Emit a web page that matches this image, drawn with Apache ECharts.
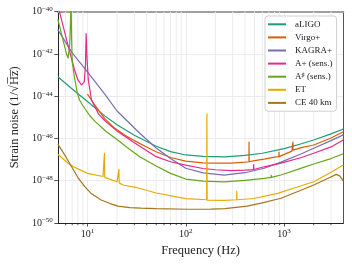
<!DOCTYPE html>
<html><head><meta charset="utf-8">
<script src="https://cdn.jsdelivr.net/npm/echarts@6/dist/echarts.min.js"></script>
<style>html,body{margin:0;padding:0;background:#fff}#c{width:352px;height:264px}</style>
</head><body><div id="c"></div>
<script>
// ---- data (frequency in Hz, log10 of strain noise PSD) ----
const seriesNames = ['aLIGO', 'Virgo+', 'KAGRA+', 'A+ (sens.)', 'A♯ (sens.)', 'ET', 'CE 40 km'];
const colors = ['#1b9e77', '#d95f02', '#7570b3', '#e7298a', '#66a61e', '#e6ab02', '#a6761d'];

const aligoF = [5, 7, 10, 15, 20, 30, 50, 70, 100, 150, 250, 400, 600, 1000, 1500, 2000, 3000, 4000];
const aligoLog = [-43.08, -43.66, -44.25, -44.93, -45.35, -45.85, -46.37, -46.62, -46.78, -46.85, -46.87, -46.8, -46.7, -46.48, -46.25, -46.07, -45.78, -45.55];

const virgoF = [10, 12, 15, 19, 25, 30, 40, 50, 70, 100, 150, 200, 290, 400, 439, 440, 441, 500, 627, 800, 886, 887, 888, 930, 1200, 1229, 1230, 1231, 1500, 2000, 3000, 4000];
const virgoLog = [-43.9, -44.45, -45.06, -45.52, -45.9, -46.1, -46.4, -46.63, -46.9, -47.07, -47.15, -47.17, -47.17, -47.12, -47.1, -46.15, -47.1, -47.05, -46.98, -46.88, -46.86, -46.63, -46.86, -46.8, -46.6, -46.55, -46.15, -46.55, -46.43, -46.31, -45.98, -45.68];

const kagraF = [5, 7, 10, 15, 20, 34, 50, 70, 100, 150, 245, 400, 627, 930, 1500, 2000, 3000, 4000];
const kagraLog = [-40.85, -41.95, -42.85, -43.9, -44.7, -45.75, -46.45, -46.95, -47.41, -47.63, -47.73, -47.62, -47.41, -47.12, -46.72, -46.46, -46.1, -45.83];

const aplusF = [5, 5.2, 5.45, 6.4, 7.4, 8.0, 8.7, 9.3, 9.55, 9.7, 9.85, 10.2, 11, 13, 15, 20, 30, 50, 70, 100, 150, 200, 290, 400, 489, 490, 491, 627, 930, 1500, 2000, 3000, 4000];
const aplusLog = [-39.7, -40.0, -40.39, -41.66, -42.76, -43.23, -43.47, -43.31, -42.5, -41.02, -42.0, -43.23, -44.18, -44.85, -45.15, -45.65, -46.2, -46.86, -47.1, -47.26, -47.42, -47.48, -47.52, -47.5, -47.47, -47.22, -47.47, -47.34, -47.17, -46.9, -46.7, -46.4, -46.07];

const asharpF = [5, 5.7, 6.1, 6.36, 6.6, 6.75, 6.8, 6.85, 6.9, 7.0, 7.4, 7.9, 8.3, 9, 10.5, 12, 15.6, 20, 25, 34, 50, 70, 100, 150, 245, 400, 627, 739, 740, 741, 930, 1500, 2000, 3000, 4000];
const asharpLog = [-40.35, -41.42, -41.97, -42.2, -41.58, -40.2, -39.0, -40.2, -41.26, -42.37, -43.15, -43.86, -44.18, -44.45, -44.9, -45.2, -45.68, -46.05, -46.4, -46.86, -47.3, -47.65, -47.92, -48.02, -48.05, -47.98, -47.89, -47.84, -47.72, -47.84, -47.73, -47.4, -47.21, -46.95, -46.72];

const etF = [5, 6.35, 7.2, 10, 14.4, 14.8, 14.9, 15.0, 15.3, 20, 20.8, 20.9, 21.0, 23, 31, 50, 100, 163, 164, 165, 245, 329, 330, 331, 489, 490, 491, 860, 1200, 2000, 3000, 4000];
const etLog = [-46.75, -47.17, -47.34, -47.65, -47.8, -47.82, -46.68, -47.84, -47.88, -48.05, -48.08, -47.45, -48.1, -48.2, -48.31, -48.58, -48.85, -48.9, -44.82, -48.92, -48.93, -48.9, -48.49, -48.9, -48.84, -48.75, -48.84, -48.6, -48.38, -48.05, -47.6, -47.26];

const ceF = [5, 6, 6.9, 8, 9.4, 11, 13.8, 17, 20.4, 27, 35, 50, 104, 179, 180, 181, 250, 420, 600, 930, 1400, 2000, 2700, 3400, 3700, 4000];
const ceLog = [-46.27, -46.85, -47.34, -47.85, -48.28, -48.62, -48.91, -49.08, -49.2, -49.27, -49.3, -49.32, -49.35, -49.34, -49.25, -49.34, -49.32, -49.2, -49.05, -48.83, -48.5, -48.2, -47.92, -47.7, -47.78, -48.02];

const minorFreqs = [6, 7, 8, 9, 20, 30, 40, 50, 60, 70, 80, 90, 200, 300, 400, 500, 600, 700, 800, 900, 2000, 3000];

const freqSets = [aligoF, virgoF, kagraF, aplusF, asharpF, etF, ceF];
const logSets = [aligoLog, virgoLog, kagraLog, aplusLog, asharpLog, etLog, ceLog];

const FONT = 'Liberation Serif';
const GRID = '#ececec';
const chart = echarts.init(document.getElementById('c'), null, {renderer: 'canvas'});

const lineSeries = seriesNames.map((name, i) => ({
  name: name,
  type: 'line',
  data: freqSets[i].map((f, j) => [f, logSets[i][j]]),
  showSymbol: false,
  symbol: 'none',
  lineStyle: {color: colors[i], width: 1.2},
  itemStyle: {color: colors[i]},
  clip: true,
  z: 3,
  animation: false
}));

const gridSeries = {
  type: 'custom',
  name: 'minorgrid',
  data: minorFreqs.map(f => [f, -45]),
  encode: {x: 0, y: 1},
  silent: true,
  z: 1,
  animation: false,
  renderItem: function (params, api) {
    const f = api.value(0);
    const top = api.coord([f, -40]);
    const bot = api.coord([f, -50]);
    return {
      type: 'group',
      children: [
        {type: 'line', shape: {x1: top[0], y1: top[1], x2: bot[0], y2: bot[1]}, style: {stroke: GRID, lineWidth: 1}},
        {type: 'line', shape: {x1: bot[0], y1: bot[1], x2: bot[0], y2: bot[1] + 2.2}, style: {stroke: '#222', lineWidth: 0.8}}
      ]
    };
  }
};

function supLabelX(v) {
  const e = Math.round(Math.log10(v));
  return '{b|10}{s|' + e + '}';
}
function supLabelY(v) {
  const e = Math.round(v);
  return '{b|10}{s|' + (e < 0 ? '−' + (-e) : e) + '}';
}
const supRich = {
  b: {fontFamily: FONT, fontSize: 10, color: '#222'},
  s: {fontFamily: FONT, fontSize: 7, color: '#222', verticalAlign: 'bottom', padding: [0, 0, 5, 0]}
};

chart.setOption({
  animation: false,
  backgroundColor: '#fff',
  grid: {left: 56.5, right: 8.7, top: 11.7, bottom: 41, containLabel: false},
  legend: {
    orient: 'vertical',
    left: 265,
    top: 16,
    data: seriesNames,
    icon: 'rect',
    itemWidth: 18,
    itemHeight: 2,
    itemGap: 2.5,
    padding: [3, 4, 3, 3],
    backgroundColor: 'rgba(255,255,255,0.85)',
    borderColor: '#d0d0d0',
    borderWidth: 1,
    borderRadius: 3,
    formatter: function (name) {
      if (name === 'A♯ (sens.)') return '{n|A}{s|♯}{n| (sens.)}';
      return '{n|' + name + '}';
    },
    textStyle: {
      fontFamily: FONT, fontSize: 9, color: '#222', padding: [0, 0, 0, 4], lineHeight: 10.6,
      rich: {
        n: {fontFamily: FONT, fontSize: 9, color: '#222', lineHeight: 10.6},
        s: {fontFamily: FONT, fontSize: 6.5, color: '#222', verticalAlign: 'bottom', padding: [0, 0, 3, 0]}
      }
    }
  },
  xAxis: [{
    type: 'log',
    logBase: 10,
    min: 5,
    max: 4000,
    name: 'Frequency (Hz)',
    nameLocation: 'middle',
    nameGap: 20,
    nameTextStyle: {fontFamily: FONT, fontSize: 12.5, color: '#222'},
    axisLine: {show: true, lineStyle: {color: '#222', width: 1}},
    axisTick: {show: true, length: 3.5, inside: false, lineStyle: {color: '#222', width: 0.8}},
    axisLabel: {
      showMinLabel: false, showMaxLabel: false, margin: 5,
      formatter: supLabelX, rich: supRich
    },
    splitLine: {show: true, lineStyle: {color: GRID, width: 1}}
  }, {
    type: 'log', logBase: 10, min: 5, max: 4000, position: 'top',
    axisLine: {show: true, lineStyle: {color: '#a0a0a0', width: 2}},
    axisTick: {show: false}, axisLabel: {show: false}, splitLine: {show: false}
  }],
  yAxis: [{
    type: 'value',
    min: -50,
    max: -40,
    interval: 2,
    name: 'Strain noise (1/√H\u0305z\u0305)',
    nameLocation: 'middle',
    nameGap: 35,
    nameRotate: 90,
    nameTextStyle: {fontFamily: FONT, fontSize: 12.5, color: '#222'},
    axisLine: {show: true, lineStyle: {color: '#222', width: 1}},
    axisTick: {show: true, length: 3.5, lineStyle: {color: '#222', width: 0.8}},
    axisLabel: {margin: 5, formatter: supLabelY, rich: supRich},
    splitLine: {show: true, lineStyle: {color: GRID, width: 1}}
  }, {
    type: 'value', min: -50, max: -40, interval: 2, position: 'right',
    axisLine: {show: true, lineStyle: {color: '#555', width: 1}},
    axisTick: {show: false}, axisLabel: {show: false}, splitLine: {show: false}
  }],
  series: [gridSeries].concat(lineSeries)
});
</script>
</body></html>
